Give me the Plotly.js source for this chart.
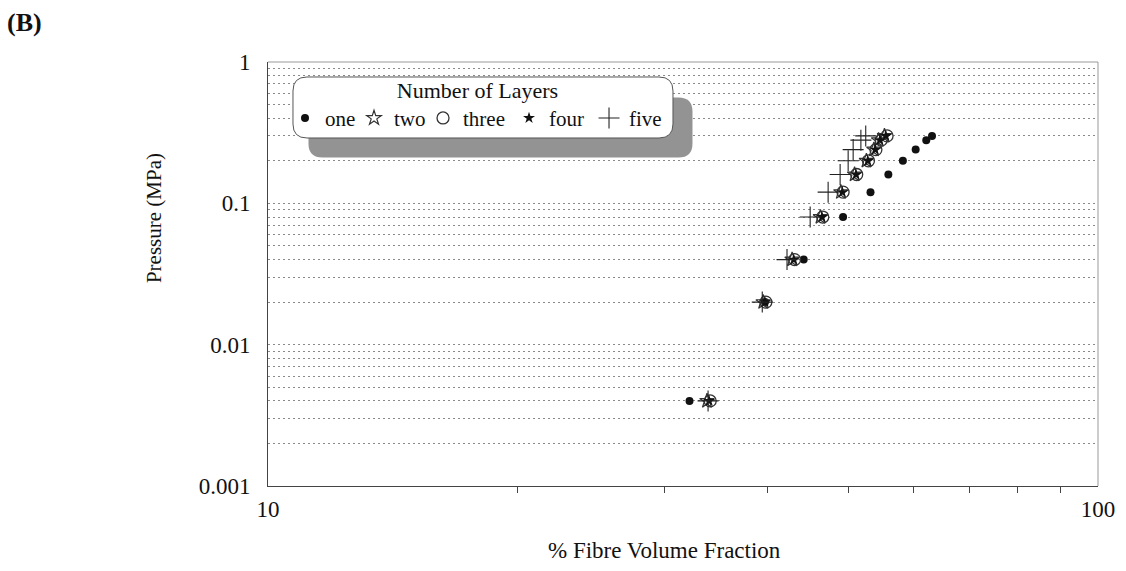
<!DOCTYPE html>
<html>
<head>
<meta charset="utf-8">
<script src="https://cdn.plot.ly/plotly-3.0.1.min.js"></script>
<style>
  html, body { margin: 0; padding: 0; background: #ffffff; }
  #chart { width: 1126px; height: 571px; }
</style>
</head>
<body>
<div id="chart"></div>
<script>
// ---- data ----
const pressure = [0.004, 0.02, 0.04, 0.08, 0.12, 0.16, 0.2, 0.24, 0.28, 0.3];
const vfOne   = [32.2, 39.7, 44.2, 49.3, 53.2, 55.9, 58.2, 60.3, 62.1, 63.1];
const vfTwo   = [33.8, 39.5, 42.8, 46.3, 49.0, 50.9, 52.6, 53.7, 54.4, 55.3];
const vfThree = [34.1, 39.8, 43.1, 46.6, 49.3, 51.2, 52.9, 54.0, 54.8, 55.7];
const vfFour  = [34.0, 39.7, 43.0, 46.5, 49.2, 51.1, 52.8, 53.9, 54.6, 55.5];
const vfFive  = [33.9, 39.4, 42.2, 45.0, 47.3, 48.9, 50.0, 50.7, 51.8, 52.5];

const seriesNames = ['one', 'two', 'three', 'four', 'five'];
const legendTitle = 'Number of Layers';
const xTitle = '% Fibre Volume Fraction';
const yTitle = 'Pressure (MPa)';
const panelLabel = '(B)';

const xTickVals = [10, 100];
const xTickText = ['10', '100'];
const xMinorVals = [20, 30, 40, 50, 60, 70, 80, 90];
const yTickVals = [0.001, 0.01, 0.1, 1];
const yTickText = ['0.001', '0.01', '0.1', '1'];
const yMinorVals = [0.002, 0.003, 0.004, 0.005, 0.006, 0.007, 0.008, 0.009,
                    0.02, 0.03, 0.04, 0.05, 0.06, 0.07, 0.08, 0.09,
                    0.2, 0.3, 0.4, 0.5, 0.6, 0.7, 0.8, 0.9];

const FONT = '"Liberation Serif", "Times New Roman", serif';
const GRID = '#8a8a8a';

const traces = [
  { x: vfOne, y: pressure, name: seriesNames[0], type: 'scatter', mode: 'markers', legendwidth: 24,
    marker: { symbol: 'circle', size: 8, color: '#111' } },
  { x: vfTwo, y: pressure, name: seriesNames[1], type: 'scatter', mode: 'markers', legendwidth: 24,
    marker: { symbol: 'star-open', size: 11, color: '#333', line: { width: 1.2, color: '#333' } } },
  { x: vfThree, y: pressure, name: seriesNames[2], type: 'scatter', mode: 'markers', legendwidth: 41,
    marker: { symbol: 'circle-open', size: 12, color: '#333', line: { width: 1.3, color: '#333' } } },
  { x: vfFour, y: pressure, name: seriesNames[3], type: 'scatter', mode: 'markers', legendwidth: 35,
    marker: { symbol: 'star', size: 9, color: '#111' } },
  { x: vfFive, y: pressure, name: seriesNames[4], type: 'scatter', mode: 'markers', legendwidth: 36,
    marker: { symbol: 'cross-thin-open', size: 15, color: '#222', line: { width: 1.1, color: '#222' } } }
];

function roundRect(hw, hh, r) {
  return `M ${-hw + r} ${-hh} L ${hw - r} ${-hh} Q ${hw} ${-hh} ${hw} ${-hh + r} ` +
         `L ${hw} ${hh - r} Q ${hw} ${hh} ${hw - r} ${hh} L ${-hw + r} ${hh} ` +
         `Q ${-hw} ${hh} ${-hw} ${hh - r} L ${-hw} ${-hh + r} Q ${-hw} ${-hh} ${-hw + r} ${-hh} Z`;
}

const layout = {
  width: 1126, height: 571,
  margin: { l: 268, r: 28, t: 62, b: 85 },
  paper_bgcolor: '#ffffff',
  plot_bgcolor: '#ffffff',
  font: { family: FONT, size: 21, color: '#111' },
  showlegend: true,
  legend: {
    orientation: 'h',
    x: 0.0205, y: 0.983, xanchor: 'left', yanchor: 'top',
    bgcolor: 'rgba(0,0,0,0)', borderwidth: 0,
    font: { family: FONT, size: 21, color: '#111' },
    title: { text: legendTitle, side: 'top center', font: { family: FONT, size: 22, color: '#111' } },
    itemwidth: 30,
    tracegroupgap: 0
  },
  xaxis: {
    type: 'log',
    range: [1, 2],
    tickmode: 'array', tickvals: xTickVals, ticktext: xTickText,
    ticks: '', showgrid: false, zeroline: false,
    showline: true, linecolor: '#444', linewidth: 1, mirror: false,
    tickfont: { family: FONT, size: 23, color: '#111' },
    ticklabelstandoff: 2,
    minor: { tickmode: 'array', tickvals: xMinorVals, ticks: 'outside', ticklen: 6, tickcolor: '#444', tickwidth: 1, showgrid: false }
  },
  yaxis: {
    type: 'log',
    range: [-3, 0],
    tickmode: 'array', tickvals: yTickVals, ticktext: yTickText,
    ticks: '', showgrid: true, gridcolor: GRID, griddash: '2px,3px', gridwidth: 1,
    zeroline: false,
    showline: true, linecolor: '#444', linewidth: 1, mirror: false,
    tickfont: { family: FONT, size: 23, color: '#111' },
    ticklabelstandoff: 12,
    minor: { tickmode: 'array', tickvals: yMinorVals, ticks: '', showgrid: true, gridcolor: GRID, griddash: '2px,3px', gridwidth: 1 }
  },
  shapes: [
    // plot frame (top and right edges lighter)
    { type: 'line', xref: 'paper', yref: 'paper', x0: 0, x1: 1, y0: 1, y1: 1, line: { color: '#999', width: 1 }, layer: 'above' },
    { type: 'line', xref: 'paper', yref: 'paper', x0: 1, x1: 1, y0: 0, y1: 1, line: { color: '#999', width: 1 }, layer: 'above' },
    // legend shadow
    { type: 'path', xref: 'paper', yref: 'paper', xsizemode: 'pixel', ysizemode: 'pixel',
      xanchor: 0.2801, yanchor: 0.8455, path: roundRect(192, 30, 14),
      fillcolor: '#939393', line: { width: 0 }, layer: 'above' },
    // legend box
    { type: 'path', xref: 'paper', yref: 'paper', xsizemode: 'pixel', ysizemode: 'pixel',
      xanchor: 0.259, yanchor: 0.8927, path: roundRect(190, 30.5, 14),
      fillcolor: '#ffffff', line: { width: 1, color: '#555' }, layer: 'above' }
  ],
  annotations: [
    { text: '<b>' + panelLabel + '</b>', xref: 'paper', yref: 'paper', x: -0.317, y: 1.094,
      xanchor: 'left', yanchor: 'middle', showarrow: false, font: { family: FONT, size: 26, color: '#111' } },
    { text: yTitle, xref: 'paper', yref: 'paper', x: -0.138, y: 0.633, textangle: -90,
      xanchor: 'center', yanchor: 'middle', showarrow: false, font: { family: FONT, size: 21, color: '#111' } },
    { text: xTitle, xref: 'paper', yref: 'paper', x: 0.478, y: -0.153,
      xanchor: 'center', yanchor: 'middle', showarrow: false, font: { family: FONT, size: 23, color: '#111' } }
  ]
};

Plotly.newPlot('chart', traces, layout, { displayModeBar: false, staticPlot: true });
</script>
</body>
</html>
